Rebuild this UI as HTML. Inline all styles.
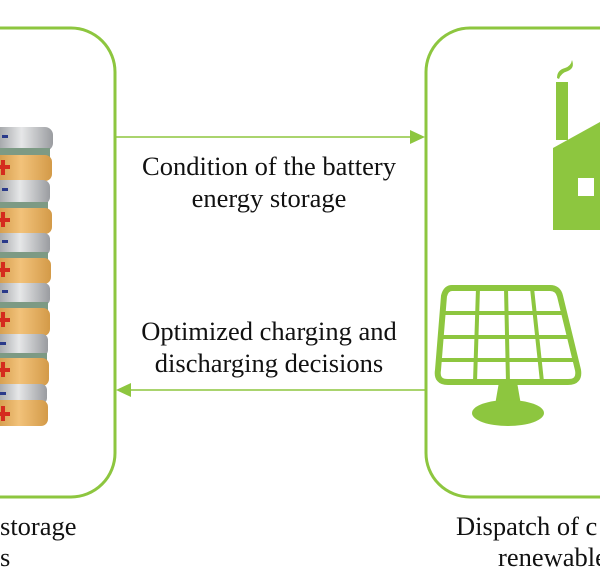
<!DOCTYPE html>
<html><head><style>
body{margin:0;width:600px;height:582px;background:#fff;overflow:hidden}
svg{display:block}
text{font-family:"Liberation Serif",serif;font-size:26.5px;fill:#111}
</style></head><body>
<svg width="600" height="582" viewBox="0 0 600 582">
<defs>
<linearGradient id="sil" x1="0" x2="1"><stop offset="0" stop-color="#8a8d91"/><stop offset=".5" stop-color="#e6e7e8"/><stop offset="1" stop-color="#9a9ca0"/></linearGradient>
<linearGradient id="org" x1="0" x2="1"><stop offset="0" stop-color="#c98f3c"/><stop offset=".5" stop-color="#f2c27a"/><stop offset="1" stop-color="#d39a48"/></linearGradient>
</defs>
<rect x="-60" y="28" width="175" height="469" rx="44" fill="none" stroke="#8dc63f" stroke-width="3"/>
<rect x="426" y="28" width="240" height="469" rx="44" fill="none" stroke="#8dc63f" stroke-width="3"/>
<line x1="116" y1="137" x2="412" y2="137" stroke="#8dc63f" stroke-width="1.5"/>
<polygon points="425,137 410,130 410,144" fill="#8dc63f"/>
<line x1="130" y1="390" x2="425" y2="390" stroke="#8dc63f" stroke-width="1.5"/>
<polygon points="116,390 131,383 131,397" fill="#8dc63f"/>
<text x="269" y="175" text-anchor="middle">Condition of the battery</text>
<text x="269" y="207" text-anchor="middle">energy storage</text>
<text x="269" y="340" text-anchor="middle">Optimized charging and</text>
<text x="269" y="372" text-anchor="middle">discharging decisions</text>
<text x="0" y="535">storage</text>
<text x="0" y="566">s</text>
<text x="456" y="535">Dispatch of c</text>
<text x="498" y="566">renewable</text>
<g>
<rect x="-10" y="127" width="63" height="24" rx="8" fill="url(#sil)"/>
<rect x="-10" y="148" width="60" height="10" fill="#7d9a84"/>
<rect x="-10" y="155" width="62" height="26" rx="7" fill="url(#org)"/>
<rect x="-10" y="180" width="60" height="24" rx="7" fill="url(#sil)"/>
<rect x="-10" y="202" width="58" height="10" fill="#7d9a84"/>
<rect x="-10" y="208" width="62" height="26" rx="7" fill="url(#org)"/>
<rect x="-10" y="233" width="60" height="22" rx="6" fill="url(#sil)"/>
<rect x="-10" y="252" width="58" height="10" fill="#7d9a84"/>
<rect x="-10" y="258" width="61" height="26" rx="7" fill="url(#org)"/>
<rect x="-10" y="283" width="60" height="22" rx="6" fill="url(#sil)"/>
<rect x="-10" y="302" width="58" height="10" fill="#7d9a84"/>
<rect x="-10" y="308" width="60" height="28" rx="7" fill="url(#org)"/>
<rect x="-10" y="334" width="58" height="22" rx="6" fill="url(#sil)"/>
<rect x="-10" y="353" width="57" height="10" fill="#7d9a84"/>
<rect x="-10" y="358" width="59" height="28" rx="7" fill="url(#org)"/>
<rect x="-10" y="384" width="57" height="20" rx="6" fill="url(#sil)"/>
<rect x="-10" y="400" width="58" height="26" rx="7" fill="url(#org)"/>
<g fill="#d52b1e">
<rect x="1" y="160" width="4" height="15"/><rect x="-4" y="165" width="14" height="4"/>
<rect x="1" y="212" width="4" height="15"/><rect x="-4" y="218" width="14" height="4"/>
<rect x="1" y="262" width="4" height="15"/><rect x="-4" y="268" width="14" height="4"/>
<rect x="1" y="312" width="4" height="15"/><rect x="-4" y="318" width="14" height="4"/>
<rect x="1" y="362" width="4" height="15"/><rect x="-4" y="368" width="14" height="4"/>
<rect x="1" y="406" width="4" height="15"/><rect x="-4" y="412" width="14" height="4"/>
</g>
<g fill="#2a3a8a"><rect x="2" y="135" width="6" height="3"/><rect x="2" y="188" width="6" height="3"/><rect x="2" y="240" width="6" height="3"/><rect x="2" y="290" width="6" height="3"/><rect x="0" y="342" width="6" height="3"/><rect x="0" y="392" width="6" height="3"/></g>
</g>
<g fill="#8dc63f">
<path d="M557 78 q0 -8 8 -10 q6 -2 7 -8 q3 8 -4 11 q-7 2 -9 8z"/>
<rect x="556" y="82" width="12" height="58"/>
<polygon points="553,148 600,122 600,230 553,230"/>
</g>
<rect x="578" y="178" width="16" height="18" fill="#fff"/>
<g fill="none" stroke="#8dc63f">
<path d="M452 288 H550 Q558 288 560 296 L578 370 Q580 382 568 382 H448 Q436 382 438 370 L444 296 Q446 288 452 288Z" stroke-width="6"/>
<path d="M442 313 H566 M440 337 H572 M439 360 H576 M478 288 L475 382 M506 288 L508 382 M532 288 L542 382" stroke-width="4"/>
</g>
<g fill="#8dc63f">
<polygon points="499,382 517,382 521,405 495,405"/>
<ellipse cx="508" cy="413" rx="36" ry="13"/>
</g>
</svg>
</body></html>
